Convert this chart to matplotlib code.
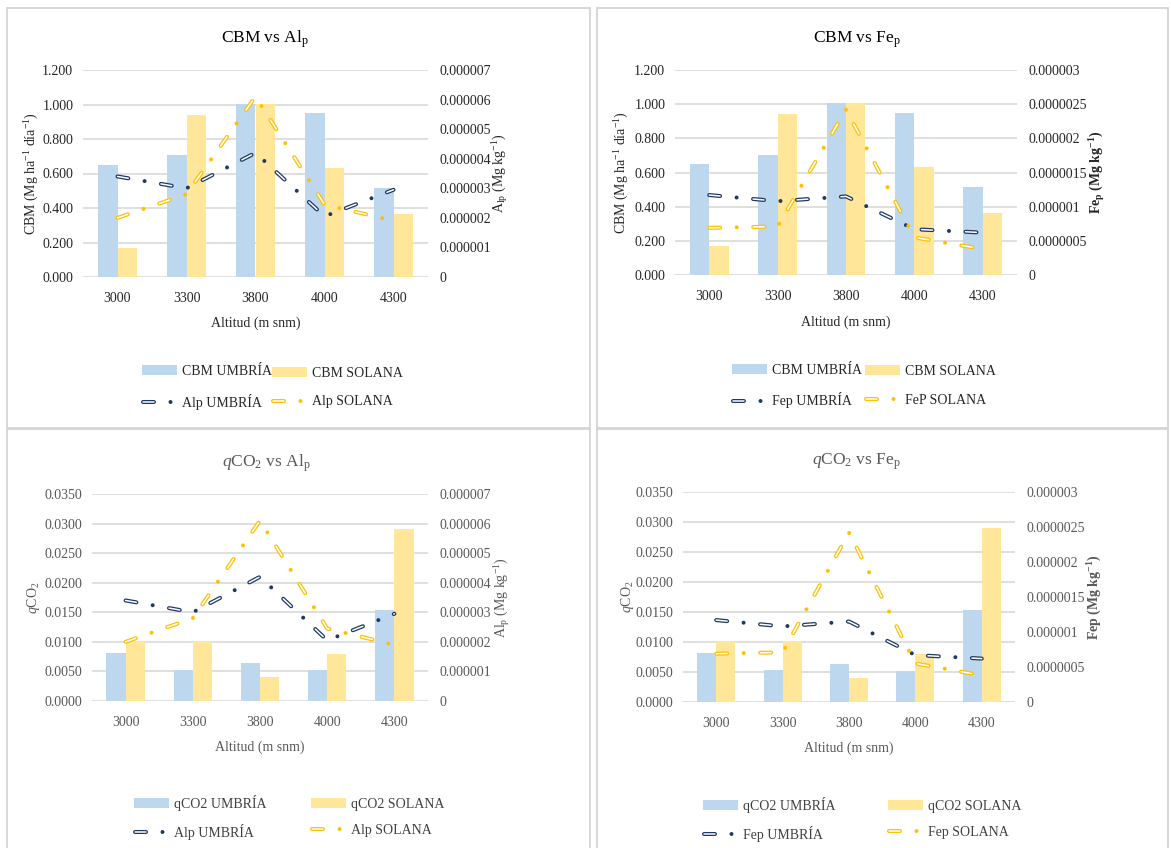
import matplotlib
matplotlib.use('Agg')
import matplotlib.pyplot as plt
import numpy as np
from matplotlib.lines import Line2D
from matplotlib.patches import Patch, Rectangle

plt.rcParams['font.family'] = ['Liberation Serif', 'DejaVu Serif']
plt.rcParams['mathtext.fontset'] = 'custom'
plt.rcParams['mathtext.rm'] = 'Liberation Serif'
plt.rcParams['mathtext.it'] = 'Liberation Serif:italic'
plt.rcParams['mathtext.bf'] = 'Liberation Serif:bold'
plt.rcParams['lines.scale_dashes'] = False

# data
altitud = ['3000', '3300', '3800', '4000', '4300']
cbm_umbria = [0.650, 0.705, 1.005, 0.950, 0.515]
cbm_solana = [0.170, 0.940, 1.005, 0.630, 0.365]
qco2_umbria = [0.0082, 0.0053, 0.0064, 0.0052, 0.0154]
qco2_solana = [0.0102, 0.0102, 0.0040, 0.0080, 0.0290]
alp_umbria = [3.40e-6, 3.00e-6, 4.20e-6, 2.05e-6, 2.95e-6]
alp_solana = [2.00e-6, 2.80e-6, 6.10e-6, 2.45e-6, 1.90e-6]
fep_umbria = [1.17e-6, 1.08e-6, 1.15e-6, 0.67e-6, 0.62e-6]
fep_solana = [0.69e-6, 0.71e-6, 2.42e-6, 0.55e-6, 0.38e-6]

cbm_ticks = ['0.000', '0.200', '0.400', '0.600', '0.800', '1.000', '1.200']
qco2_ticks = ['0.0000', '0.0050', '0.0100', '0.0150', '0.0200', '0.0250',
              '0.0300', '0.0350']
al_ticks = ['0', '0.000001', '0.000002', '0.000003', '0.000004', '0.000005',
            '0.000006', '0.000007']
fe_ticks = ['0', '0.0000005', '0.000001', '0.0000015', '0.000002',
            '0.0000025', '0.000003']

BLUE_BAR = '#BDD7EE'
GOLD_BAR = '#FFE699'
BLUE_LINE = '#1F3864'
GOLD_LINE = '#FFC000'
GRID = '#D9D9D9'

W, H = 1171, 848
fig = plt.figure(figsize=(W / 100, H / 100), dpi=100)


def fx(px):
    return px / W


def fy(py):
    return 1 - py / H


# dash, gap, dot, gap  (points); the white inner stroke makes the dash hollow
DASH, GAP = 7.9, 11.9
OUTER = dict(lw=2.9, dashes=(DASH, GAP, 0.01, GAP), dash_capstyle='round')
INNER = dict(lw=1.1, color='white', dashes=(DASH, GAP * 2 + 0.01),
             dash_capstyle='round')


def hollow_line(ax, x, y, color):
    ax.plot(x, y, color=color, **OUTER)
    ax.plot(x, y, **INNER)


class HollowHandler:
    def legend_artist(self, legend, orig_handle, fontsize, handlebox):
        x0 = -handlebox.xdescent
        w, h = handlebox.width, handlebox.height
        yc = -handlebox.ydescent + h / 2
        tr = handlebox.get_transform()
        xs = [x0 + 1, x0 + w]
        outer = Line2D(xs, [yc, yc], color=orig_handle.get_color(),
                       transform=tr, **OUTER)
        inner = Line2D(xs, [yc, yc], transform=tr, **INNER)
        handlebox.add_artist(outer)
        handlebox.add_artist(inner)
        return outer


def panel(box, axbox, title, title_x, left_vals, left_ticks, left_label,
          right_vals, right_ticks, right_label, bar_names, line_names,
          ylab_x, rlab_x, xlab_y, leg, dark):
    bx0, by0, bx1, by1 = box
    fig.add_artist(Rectangle((fx(bx0), fy(by1)), (bx1 - bx0) / W,
                             (by1 - by0) / H, transform=fig.transFigure,
                             fill=False, edgecolor='#D4D4D4', lw=1.3))
    x0, y0, x1, y1 = axbox
    ax = fig.add_axes([fx(x0), fy(y1), (x1 - x0) / W, (y1 - y0) / H])
    tcol = '#262626' if dark else '#595959'
    x = np.arange(len(altitud))
    w = 0.285
    ax.bar(x - w / 2, left_vals[0], w, color=BLUE_BAR)
    ax.bar(x + w / 2, left_vals[1], w, color=GOLD_BAR)
    lt = [float(s) for s in left_ticks]
    ax.set_ylim(0, lt[-1])
    ax.set_yticks(lt, left_ticks)
    ax.set_xlim(-0.5, len(altitud) - 0.5)
    ax.set_xticks(x, altitud)
    ax.set_axisbelow(True)
    ax.grid(axis='y', color=GRID, lw=1.2)
    for s in ax.spines.values():
        s.set_visible(False)
    ax.tick_params(axis='y', length=0, pad=7, labelsize=10, labelcolor=tcol)
    ax.tick_params(axis='x', length=0, pad=10.5, labelsize=10,
                   labelcolor=tcol)
    ax.set_title(title, fontsize=12.5, color='black' if dark else '#595959',
                 pad=20, x=(title_x - x0) / (x1 - x0))
    ax.set_xlabel('Altitud (m snm)', fontsize=10, color=tcol, va='center')
    ax.xaxis.set_label_coords(0.5, -(xlab_y - y1) / (y1 - y0))
    ax.set_ylabel(left_label, fontsize=10, color=tcol, va='center')
    ax.yaxis.set_label_coords((ylab_x - x0) / (x1 - x0), 0.5)

    ax2 = ax.twinx()
    for s in ax2.spines.values():
        s.set_visible(False)
    hollow_line(ax2, x, right_vals[0], BLUE_LINE)
    hollow_line(ax2, x, right_vals[1], GOLD_LINE)
    rt = [float(s) for s in right_ticks]
    ax2.set_ylim(0, rt[-1])
    ax2.set_yticks(rt, right_ticks)
    ax2.tick_params(axis='y', length=0, pad=8, labelsize=10, labelcolor=tcol)
    ax2.set_ylabel(right_label, fontsize=10, color=tcol, va='center',
                   rotation=90)
    ax2.yaxis.set_label_coords((rlab_x - x0) / (x1 - x0), 0.5)

    lx1, lx2, ly = leg
    lcol = '#262626' if dark else '#404040'
    cols = [(BLUE_BAR, BLUE_LINE, bar_names[0], line_names[0], lx1),
            (GOLD_BAR, GOLD_LINE, bar_names[1], line_names[1], lx2)]
    for bcol, lncol, bname, lname, lx in cols:
        key = Line2D([], [], color=lncol)
        fig.legend([Patch(facecolor=bcol), key], [bname, lname],
                   loc='center left', bbox_to_anchor=(fx(lx), fy(ly)),
                   frameon=False, borderpad=0, borderaxespad=0,
                   handlelength=2.5, handletextpad=0.35,
                   labelspacing=1.15 if dark else 0.95,
                   fontsize=10, labelcolor=lcol,
                   handler_map={key: HollowHandler()})


panel((7, 8, 590, 428), (83, 70, 428, 277),
      r'CBM vs Al$_\mathrm{p}$', 265, (cbm_umbria, cbm_solana), cbm_ticks,
      r'CBM (Mg ha$^{-1}$ día$^{-1}$)',
      (alp_umbria, alp_solana), al_ticks, r'A$_\mathrm{lp}$ (Mg kg$^{-1}$)',
      ('CBM UMBRÍA', 'CBM SOLANA'), ('Alp UMBRÍA', 'Alp SOLANA'),
      32, 500, 323, (142, 272, 387.5), True)

panel((597, 8, 1168, 428), (675, 70, 1017, 275),
      r'CBM vs Fe$_\mathrm{p}$', 857, (cbm_umbria, cbm_solana), cbm_ticks,
      r'CBM (Mg ha$^{-1}$ día$^{-1}$)',
      (fep_umbria, fep_solana), fe_ticks,
      r'$\mathbf{Fe_p}$ $\mathbf{(Mg\ kg^{-1})}$',
      ('CBM UMBRÍA', 'CBM SOLANA'), ('Fep UMBRÍA', 'FeP SOLANA'),
      622, 1097, 322, (732, 865, 386), True)

panel((7, 429, 590, 852), (92, 494, 428, 701),
      r'$\mathit{q}$CO$_2$ vs Al$_\mathrm{p}$', 266,
      (qco2_umbria, qco2_solana), qco2_ticks, r'$\mathit{q}$CO$_2$',
      (alp_umbria, alp_solana), al_ticks, r'Al$_\mathrm{p}$ (Mg kg$^{-1}$)',
      ('qCO2 UMBRÍA', 'qCO2 SOLANA'), ('Alp UMBRÍA', 'Alp SOLANA'),
      33, 502, 747, (134, 311, 817.5), False)

panel((597, 429, 1168, 852), (683, 492, 1015, 702),
      r'$\mathit{q}$CO$_2$ vs Fe$_\mathrm{p}$', 856,
      (qco2_umbria, qco2_solana), qco2_ticks, r'$\mathit{q}$CO$_2$',
      (fep_umbria, fep_solana), fe_ticks,
      r'$\mathbf{Fep}$ $\mathbf{(Mg\ kg^{-1})}$',
      ('qCO2 UMBRÍA', 'qCO2 SOLANA'), ('Fep UMBRÍA', 'Fep SOLANA'),
      627, 1095, 748, (703, 888, 819.5), False)

fig.savefig('out.png', dpi=100)
